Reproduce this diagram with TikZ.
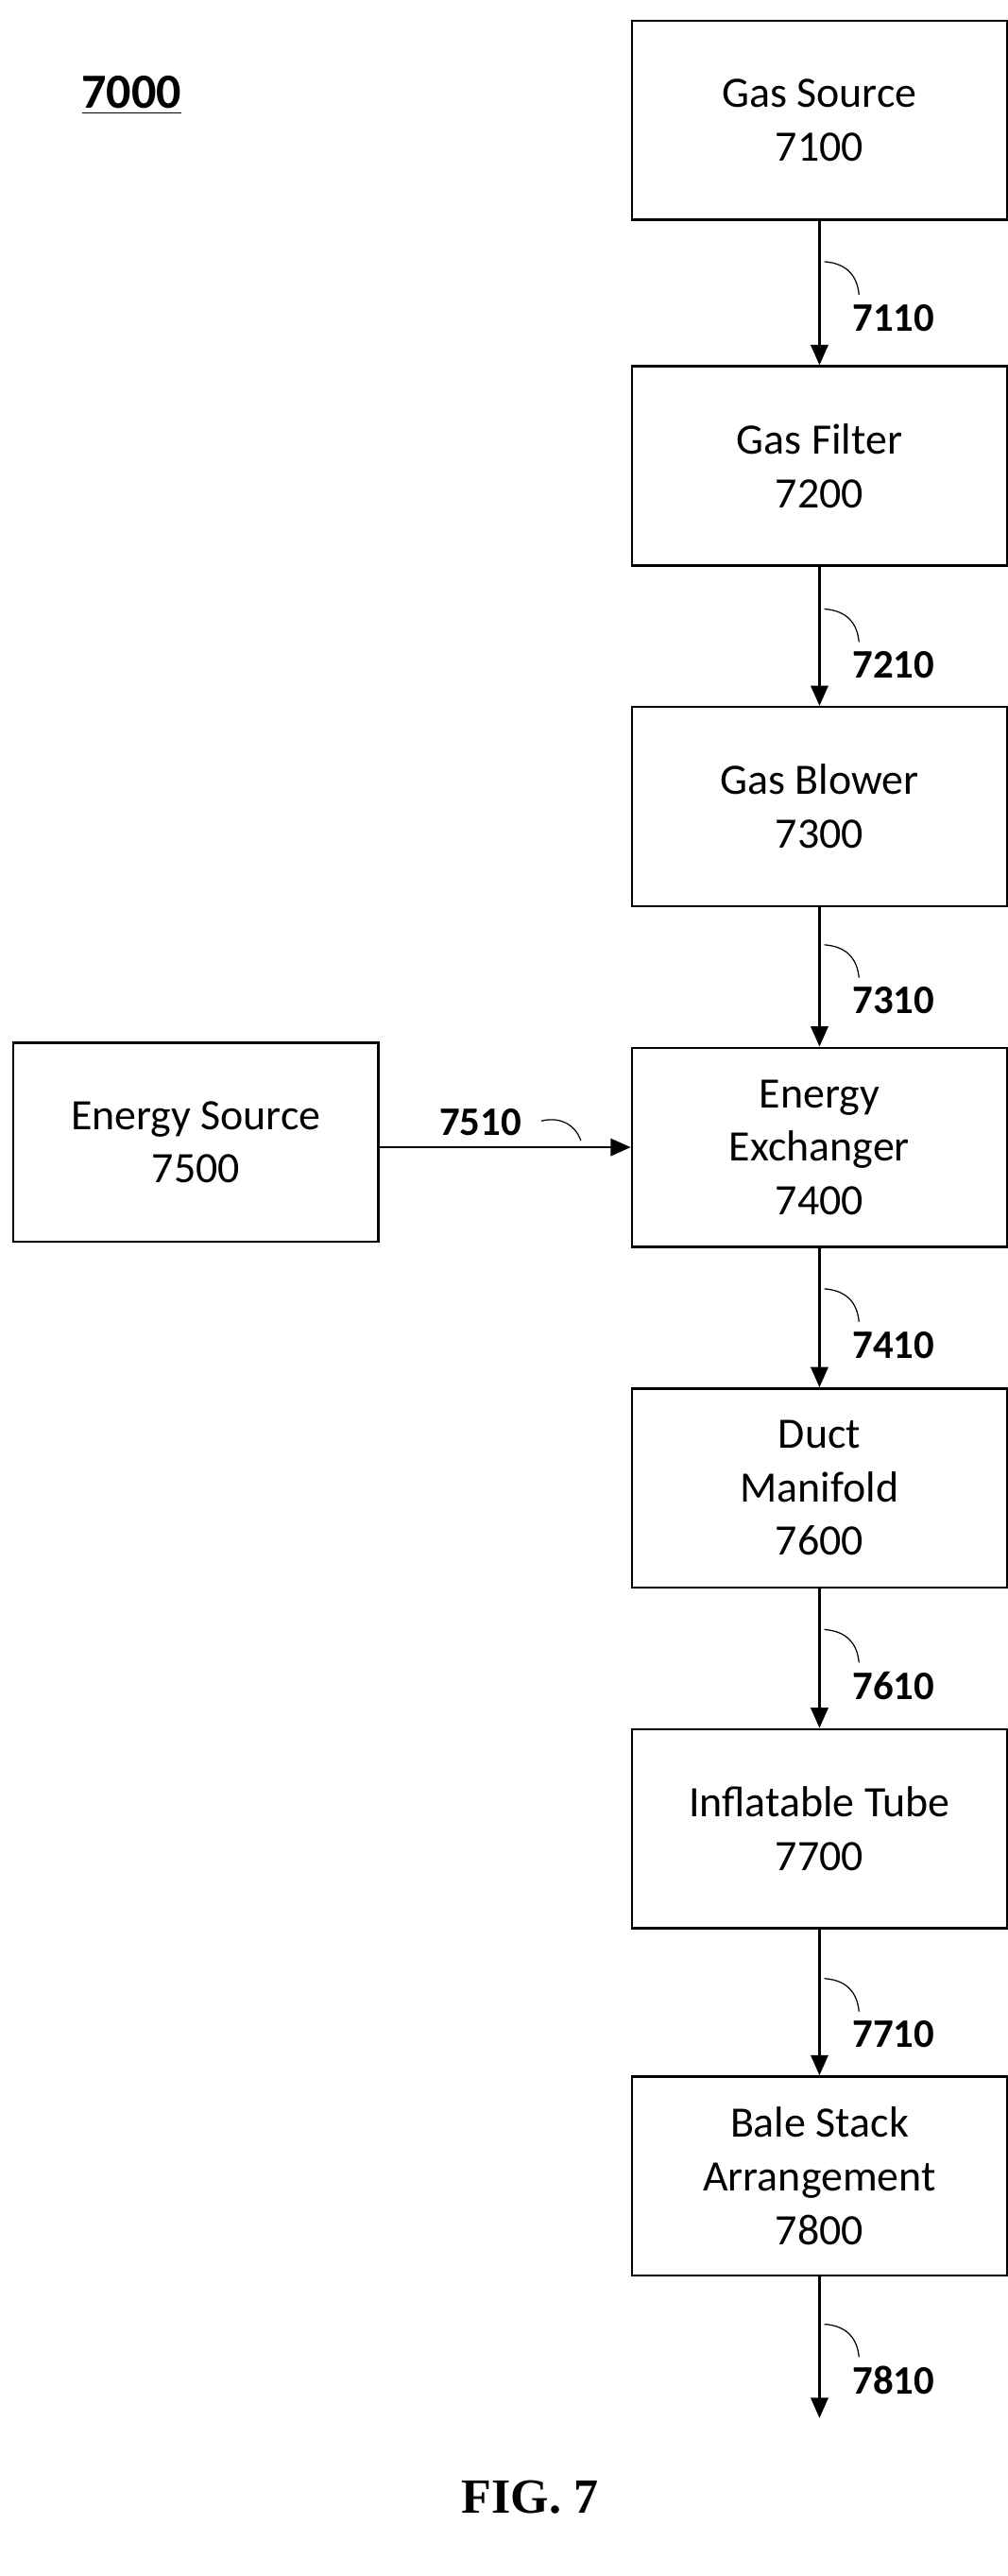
\documentclass[tikz,border=0pt]{standalone}
\usepackage{fontspec}
\setmainfont{Carlito}
\newfontfamily\figfont{Liberation Serif}
\usetikzlibrary{arrows.meta, positioning}
\begin{document}
\begin{tikzpicture}[x=0.02cm, y=-0.02cm,
        block/.style = {
            rectangle,
            draw,
            thick,
            minimum width=4.56cm,
            minimum height=2.42cm,
            align = center,
            font = \fontsize{15}{18.5}\selectfont
        },
        flow/.style = {-{Triangle[length=7pt,width=6pt]}, thick},
        lead/.style = {thin},
        ref/.style = {font=\fontsize{14}{16}\selectfont\bfseries, inner sep=1pt}
    ]
    \useasboundingbox (0,0) rectangle (612,1565);

    \node[font=\fontsize{17}{20}\selectfont\bfseries] (fignum) at (80,58) {\underline{7000}};

    \node (source) [block] at (498,73) {Gas Source\\7100};
    \node (filter) [block] at (498,283) {Gas Filter\\7200};
    \node (blower) [block] at (498,490) {Gas Blower\\7300};
    \node (exchanger) [block] at (498,697) {Energy\\Exchanger\\7400};
    \node (manifold) [block] at (498,904) {Duct\\Manifold\\7600};
    \node (tube) [block] at (498,1111) {Inflatable Tube\\7700};
    \node (bale) [block] at (498,1322) {Bale Stack\\Arrangement\\7800};
    \node (esource) [block, minimum width=4.44cm] at (119,694) {Energy Source\\7500};
    \coordinate (outlet) at (498,1469);

    \draw[flow] (source) -- (filter);
    \draw[flow] (filter) -- (blower);
    \draw[flow] (blower) -- (exchanger);
    \draw[flow] (exchanger) -- (manifold);
    \draw[flow] (manifold) -- (tube);
    \draw[flow] (tube) -- (bale);
    \draw[flow] (bale) -- (outlet);
    \draw[flow] (esource.east |- exchanger) -- (exchanger);

    % leaders and reference numbers
    \foreach \y/\t in {193/7110, 404/7210, 608/7310, 817/7410, 1024/7610, 1236/7710, 1446/7810}{
        \draw[lead] (501,\y-34) .. controls (515,\y-33) and (521,\y-25) .. (522,\y-14);
        \node[ref, anchor=west] at (516,\y) {\t};
    }
    \draw[lead] (329,681) .. controls (341,678) and (350,684) .. (353,693);
    \node[ref] (lbl7510) at (292,682) {7510};

    \node[font=\figfont\fontsize{17}{20}\selectfont\bfseries] (caption) at (322,1517) {FIG. 7};
\end{tikzpicture}
\end{document}
